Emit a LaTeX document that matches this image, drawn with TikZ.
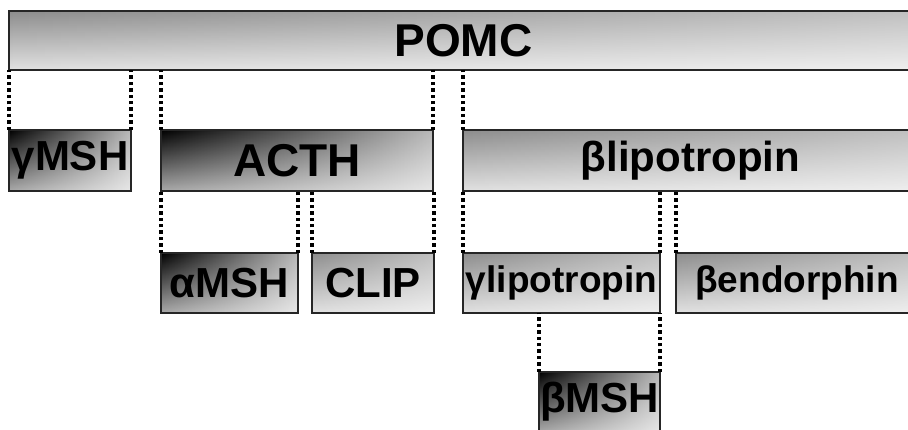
\documentclass[tikz,border=0pt]{standalone}
\usepackage{fontspec}
\setmainfont{Liberation Sans}
\usepackage{tikz}
\tikzset{
  % vertical shade, screened with a horizontal shade
  shadedpep/.style n args={4}{
    rectangle, draw=black!85, line width=2pt,
    inner sep=0pt, outer sep=0pt, font=\bfseries,
    top color=#1, bottom color=#2,
    path picture={
      \shade[left color=#3, right color=#4, blend mode=screen]
        (path picture bounding box.south west) rectangle (path picture bounding box.north east);
    }
  },
  darkpep/.style={shadedpep={black}{black!34}{black}{black!28}},
  lightpep/.style={shadedpep={black!45}{black!12}{black}{black!55}},
  cleave/.style={
    line width=3.4pt, dash pattern=on 3.4pt off 3pt, color=black
  },
  bigtxt/.style={font=\fontsize{46}{46}\selectfont\bfseries},
  midtxt/.style={font=\fontsize{42}{42}\selectfont\bfseries},
  smalltxt/.style={font=\fontsize{37}{37}\selectfont\bfseries},
}
\begin{document}
\begin{tikzpicture}[x=1pt,y=1pt]
  \useasboundingbox (0,0) rectangle (908,430);
  \clip (0,0) rectangle (908,430);

  % precursor
  \node[lightpep, bigtxt, minimum width=909pt, minimum height=59pt] (pomc) at (463.5,389.5) {POMC};

  % first cleavage
  \node[darkpep, midtxt, minimum width=122pt, minimum height=61pt] (gmsh) at (70,269.5) {γMSH};
  \node[darkpep, bigtxt, minimum width=272pt, minimum height=61pt] (acth) at (297,269.5) {ACTH};
  \node[lightpep, midtxt, minimum width=455pt, minimum height=61pt] (blpt) at (690.5,269.5) {βlipotropin};

  % second cleavage
  \node[darkpep, midtxt, minimum width=137pt, minimum height=60pt] (amsh) at (229.5,147) {αMSH};
  \node[lightpep, midtxt, minimum width=122pt, minimum height=60pt] (clp) at (373,147) {CLIP};
  \node[lightpep, smalltxt, minimum width=197pt, minimum height=60pt] (glpt) at (561.5,147) {γlipotropin};
  \node[lightpep, smalltxt, minimum width=242pt, minimum height=60pt] (bend) at (797,147) {βendorphin};

  % third cleavage
  \node[darkpep, midtxt, minimum width=121pt, minimum height=60pt] (bmsh) at (599.5,28) {βMSH};

  % cleavage sites
  \draw[cleave] (gmsh.north west) -- (gmsh.north west |- pomc.south);
  \draw[cleave] (gmsh.north east) -- (gmsh.north east |- pomc.south);
  \draw[cleave] (acth.north west) -- (acth.north west |- pomc.south);
  \draw[cleave] (acth.north east) -- (acth.north east |- pomc.south);
  \draw[cleave] (blpt.north west) -- (blpt.north west |- pomc.south);
  \draw[cleave] (amsh.north west) -- (amsh.north west |- acth.south);
  \draw[cleave] (amsh.north east) -- (amsh.north east |- acth.south);
  \draw[cleave] (clp.north west) -- (clp.north west |- acth.south);
  \draw[cleave] (clp.north east) -- (clp.north east |- acth.south);
  \draw[cleave] (glpt.north west) -- (glpt.north west |- blpt.south);
  \draw[cleave] (glpt.north east) -- (glpt.north east |- blpt.south);
  \draw[cleave] (bend.north west) -- (bend.north west |- blpt.south);
  \draw[cleave] (bmsh.north west) -- (bmsh.north west |- glpt.south);
  \draw[cleave] (bmsh.north east) -- (bmsh.north east |- glpt.south);
\end{tikzpicture}
\end{document}
